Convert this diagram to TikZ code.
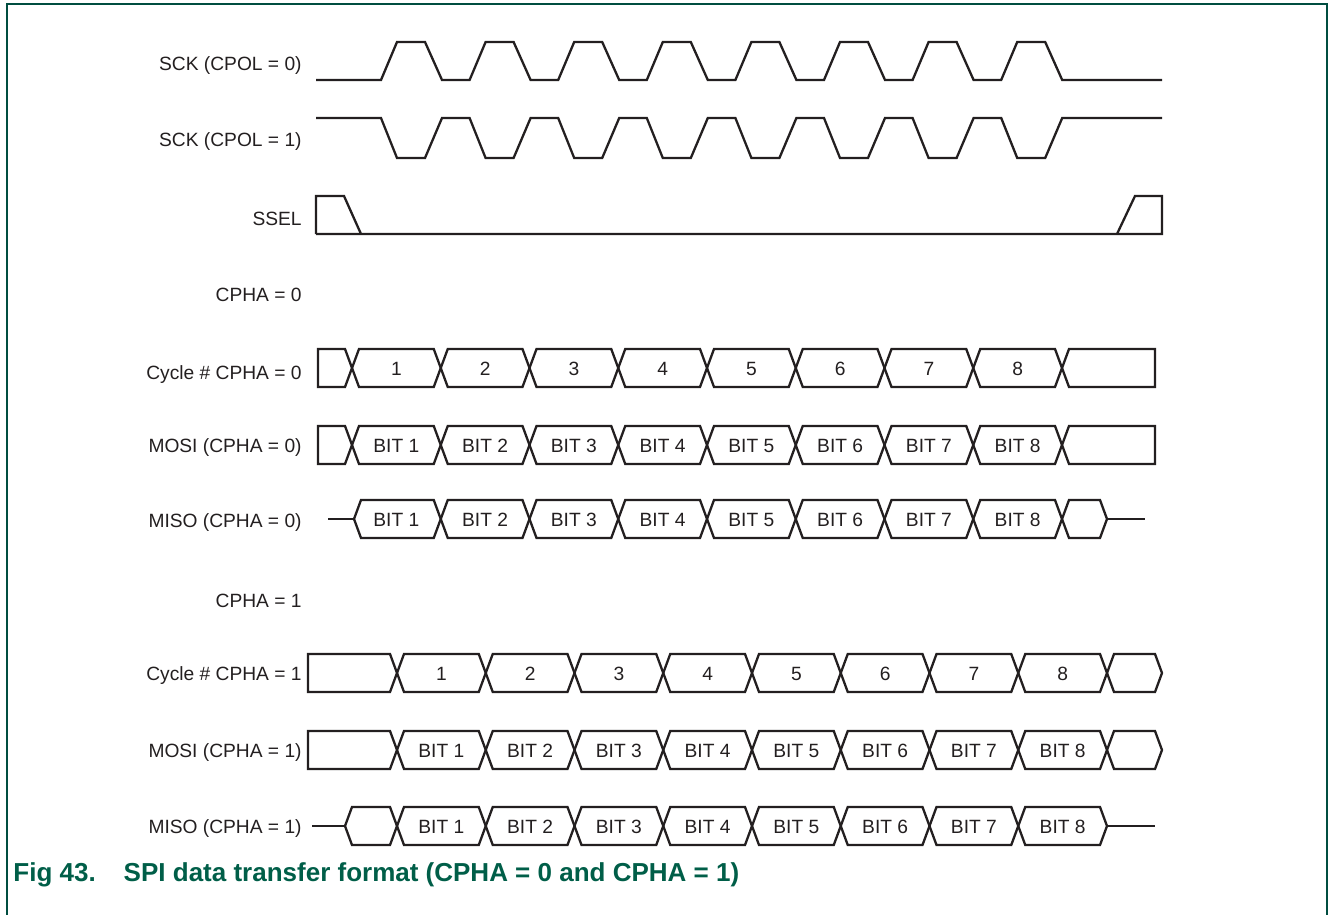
\documentclass[tikz,border=0pt]{standalone}
\usepackage{fontspec}
\setmainfont{Liberation Sans}
\usetikzlibrary{positioning, calc}
\definecolor{nxpgreen}{HTML}{005E48}
\definecolor{nxpframe}{HTML}{004D40}
\definecolor{wavecol}{HTML}{231F20}

% one bus cell: left point, right point, row centre
\newcommand{\hexcell}[3]{%
  \draw[wave] (#1,#3) -- ({#1+7},{#3-19}) -- ({#2-7},{#3-19}) -- (#2,#3)
    -- ({#2-7},{#3+19}) -- ({#1+7},{#3+19}) -- cycle;}

\begin{document}
\begin{tikzpicture}[
    x=0.5pt, y=-0.5pt,
    wave/.style={draw=wavecol, line width=1.15pt, line join=miter},
    sig/.style={anchor=base east, inner sep=0pt, text=wavecol, font=\fontsize{9.6}{11}\selectfont},
    cell/.style={anchor=base, inner sep=0pt, text=wavecol, font=\fontsize{9.6}{11}\selectfont},
    caption/.style={anchor=base west, inner sep=0pt, text=nxpgreen, font=\fontsize{13}{15}\selectfont\bfseries}
]
\useasboundingbox (0,0) rectangle (1328,915);

% Frame
\draw[nxpframe, line width=1pt] (7,915) -- (7,4.5) -- (1327,4.5) -- (1327,915);

% Signal names
\node[sig] (sck0) at (302,71) {SCK (CPOL = 0)};
\node[sig] (sck1) at (302,147) {SCK (CPOL = 1)};
\node[sig] (ssel) at (302,225) {SSEL};
\node[sig] (phaA) at (302,301) {CPHA = 0};
\node[sig] (cycA) at (302,379) {Cycle \# CPHA = 0};
\node[sig] (mosiA) at (302,452) {MOSI (CPHA = 0)};
\node[sig] (misoA) at (302,527) {MISO (CPHA = 0)};
\node[sig] (phaB) at (302,607) {CPHA = 1};
\node[sig] (cycB) at (302,680) {Cycle \# CPHA = 1};
\node[sig] (mosiB) at (302,757) {MOSI (CPHA = 1)};
\node[sig] (misoB) at (302,833) {MISO (CPHA = 1)};

% Clocks
\draw[wave] (316,80) \foreach \k in {0,...,7} {
  -- ({381+88.6*\k},80) -- ({397+88.6*\k},42) -- ({425+88.6*\k},42) -- ({442+88.6*\k},80)
} -- (1162,80);
\draw[wave] (316,118) \foreach \k in {0,...,7} {
  -- ({381+88.6*\k},118) -- ({397+88.6*\k},158) -- ({425+88.6*\k},158) -- ({442+88.6*\k},118)
} -- (1162,118);

% Slave select
\draw[wave] (316,234) -- (316,196) -- (344,196) -- (361,234);
\draw[wave] (316,234) -- (1162,234) -- (1162,196) -- (1135,196) -- (1117,234);

% CPHA = 0
\foreach \yy in {368,445} {
  \draw[wave] (318,{\yy-19}) -- (345,{\yy-19}) -- (352,\yy) -- (345,{\yy+19}) -- (318,{\yy+19}) -- cycle;
  \draw[wave] (1062,\yy) -- (1069,{\yy-19}) -- (1155,{\yy-19}) -- (1155,{\yy+19}) -- (1069,{\yy+19}) -- cycle;
}
\foreach \k in {1,...,8} {
  \pgfmathsetmacro{\a}{352+88.75*(\k-1)}
  \pgfmathsetmacro{\b}{352+88.75*\k}
  \pgfmathsetmacro{\c}{max(354,\a)}
  \hexcell{\a}{\b}{368}
  \hexcell{\a}{\b}{445}
  \hexcell{\c}{\b}{519}
  \node[cell] (cycA-\k) at ({(\a+\b)/2},375) {\k};
  \node[cell] (mosiA-\k) at ({(\a+\b)/2},452) {BIT \k};
  \node[cell] (misoA-\k) at ({(\a+\b)/2},526) {BIT \k};
}
\draw[wave] (328,519) -- (354,519);
\hexcell{1062}{1107}{519}
\draw[wave] (1107,519) -- (1145,519);

% CPHA = 1
\foreach \yy in {673,750} {
  \draw[wave] (308,{\yy-19}) -- (390,{\yy-19}) -- (397,\yy) -- (390,{\yy+19}) -- (308,{\yy+19}) -- cycle;
  \hexcell{1107}{1162}{\yy}
}
\foreach \k in {1,...,8} {
  \pgfmathsetmacro{\a}{397+88.75*(\k-1)}
  \pgfmathsetmacro{\b}{397+88.75*\k}
  \hexcell{\a}{\b}{673}
  \hexcell{\a}{\b}{750}
  \hexcell{\a}{\b}{826}
  \node[cell] (cycB-\k) at ({(\a+\b)/2},680) {\k};
  \node[cell] (mosiB-\k) at ({(\a+\b)/2},757) {BIT \k};
  \node[cell] (misoB-\k) at ({(\a+\b)/2},833) {BIT \k};
}
\draw[wave] (312,826) -- (345,826);
\hexcell{345}{397}{826}
\draw[wave] (1107,826) -- (1155,826);

% Caption
\node[caption] (cap) at (13,881) {Fig 43.\hspace{14pt}SPI data transfer format (CPHA = 0 and CPHA = 1)};

\end{tikzpicture}
\end{document}
